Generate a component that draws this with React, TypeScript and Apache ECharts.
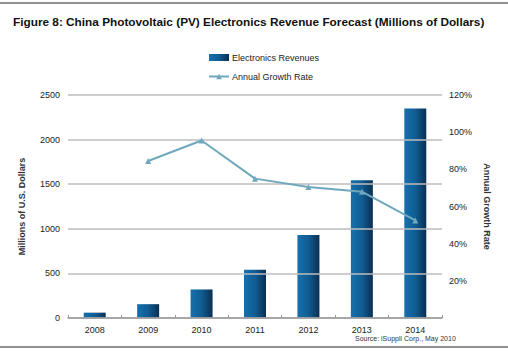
import React, { useEffect, useRef } from "react";
import * as echarts from "echarts";

const years = ["2008", "2009", "2010", "2011", "2012", "2013", "2014"];
const revenues = [60, 155, 320, 540, 930, 1545, 2350];
const growth: (number | string)[] = ["-", 84.5, 95.5, 75, 70.5, 68, 52.5];
const leftTicks = [0, 2500, 500];
const rightTicks = [0, 120, 20];

const TITLE = "Figure 8: China Photovoltaic (PV) Electronics Revenue Forecast (Millions of Dollars)";
const SOURCE = "Source: iSuppli Corp., May 2010";
const FONT = "Arial, 'Liberation Sans', sans-serif";

export default function App() {
  const ref = useRef<HTMLDivElement>(null);
  useEffect(() => {
    if (!ref.current) return;
    const chart = echarts.init(ref.current, null, { renderer: "svg" });
    const barGrad = new echarts.graphic.LinearGradient(0, 0, 1, 0, [
      { offset: 0, color: "#1670ad" },
      { offset: 0.5, color: "#105d93" },
      { offset: 1, color: "#0a2f52" },
    ]);
    chart.setOption({
      animation: false,
      backgroundColor: "#ffffff",
      textStyle: { fontFamily: FONT },
      title: {
        text: TITLE,
        left: 8,
        top: 11,
        textStyle: { fontSize: 11.8, fontWeight: "bold", color: "#111", fontFamily: FONT },
      },
      legend: {
        orient: "vertical",
        left: 203,
        top: 48,
        itemGap: 10,
        itemWidth: 20,
        itemHeight: 7,
        textStyle: { fontSize: 9, color: "#222", fontFamily: FONT, padding: [0, 0, 0, -2] },
        data: [
          { name: "Electronics Revenues", icon: "rect" },
          { name: "Annual Growth Rate" },
        ],
      },
      grid: { left: 68, right: 66, top: 95, bottom: 34 },
      xAxis: {
        type: "category",
        data: years,
        boundaryGap: true,
        axisLine: { lineStyle: { color: "#999", width: 1.5 } },
        axisTick: { show: true, inside: true, length: 3, lineStyle: { color: "#999" } },
        axisLabel: { fontSize: 9, color: "#222", margin: 7, fontFamily: FONT },
        z: 3,
      },
      yAxis: [
        {
          type: "value",
          min: leftTicks[0],
          max: leftTicks[1],
          interval: leftTicks[2],
          name: "Millions of U.S. Dollars",
          nameLocation: "middle",
          nameGap: 42,
          nameTextStyle: { fontSize: 9, fontWeight: "bold", color: "#333", fontFamily: FONT },
          axisLine: { show: false },
          axisTick: { show: false },
          axisLabel: { fontSize: 9, color: "#222", margin: 8, fontFamily: FONT, formatter: (v: number) => String(v) },
          splitLine: { lineStyle: { color: "#bdbdbd", width: 1.5 } },
          z: 3,
        },
        {
          type: "value",
          min: rightTicks[0],
          max: rightTicks[1],
          interval: rightTicks[2],
          name: "Annual Growth Rate",
          nameLocation: "middle",
          nameGap: 30,
          nameRotate: -90,
          nameTextStyle: { fontSize: 9, fontWeight: "bold", color: "#333", fontFamily: FONT },
          axisLine: { show: false },
          axisTick: { show: false },
          axisLabel: {
            fontSize: 9,
            color: "#222",
            margin: 7,
            fontFamily: FONT,
            formatter: (v: number) => (v === 0 ? "" : v + "%"),
          },
          splitLine: { show: false },
        },
      ],
      series: [
        {
          name: "Electronics Revenues",
          type: "bar",
          data: revenues,
          barWidth: 22,
          yAxisIndex: 0,
          itemStyle: { color: barGrad },
          z: 2,
        },
        {
          name: "Annual Growth Rate",
          type: "line",
          data: growth,
          yAxisIndex: 1,
          symbol: "triangle",
          symbolSize: 6,
          lineStyle: { color: "#6fa8bd", width: 2 },
          itemStyle: { color: "#6fa8bd" },
          z: 5,
        },
      ],
      graphic: [
        { type: "line", shape: { x1: 0, y1: 3, x2: 508, y2: 3 }, style: { stroke: "#222", lineWidth: 1 } },
        { type: "line", shape: { x1: 0, y1: 347, x2: 508, y2: 347 }, style: { stroke: "#222", lineWidth: 1 } },
        {
          type: "text",
          left: 355,
          top: 335,
          style: { text: SOURCE, fontSize: 7, fill: "#333", fontFamily: FONT },
        },
      ],
    });
    return () => chart.dispose();
  }, []);
  return <div ref={ref} style={{ width: 508, height: 352, position: "absolute", left: 0, top: 0 }} />;
}
